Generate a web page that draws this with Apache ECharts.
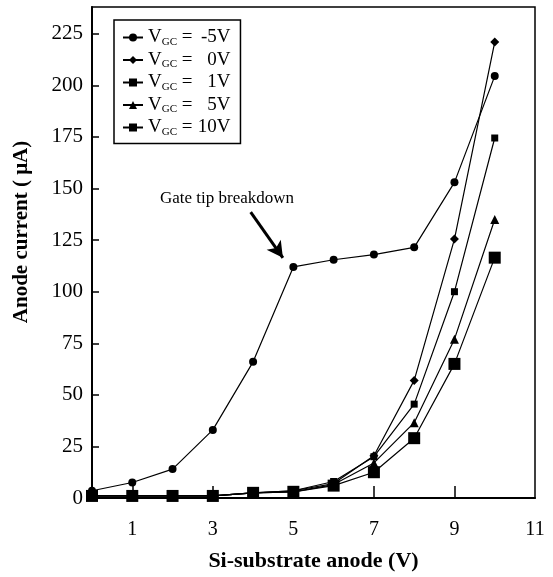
<!DOCTYPE html>
<html>
<head>
<meta charset="utf-8">
<script src="https://cdn.jsdelivr.net/npm/echarts@6/dist/echarts.min.js"></script>
<style>
  html, body { margin: 0; padding: 0; background: #fff; }
  #chart { width: 553px; height: 577px; }
</style>
</head>
<body>
<div id="chart"></div>
<script>
// anode voltage (V)
const anodeV = [0, 1, 2, 3, 4, 5, 6, 7, 8, 9, 10]
// anode current (uA) per gate voltage
const vgcMinus5 = [3.5, 7.5, 14, 33, 66, 112, 115.5, 118, 121.5, 153, 204.5]
const vgc0 = [1, 1, 1, 1, 2.5, 3.5, 7, 20.5, 57, 125.5, 221]
const vgc1 = [1, 1, 1, 1, 2.5, 3.5, 8, 20, 45.5, 100, 174.5]
const vgc5 = [1, 1, 1, 1, 2.5, 3, 6.5, 17, 36.5, 77, 135]
const vgc10 = [1, 1, 1, 1, 2.5, 3, 6, 12.5, 29, 65, 116.5]

const xLabels = [1, 3, 5, 7, 9, 11]
const xTicks = [1, 3, 5, 7, 9]
const seriesNames = ['-5V', '0V', '1V', '5V', '10V']

// arrow of the "Gate tip breakdown" note, in data units
const arrowFrom = [3.94, 138.6]
const arrowTo = [4.74, 116.4]

const serif = "'Liberation Serif', 'Times New Roman', serif"

function pairs (ys) {
  return anodeV.map((x, i) => [x, ys[i]])
}

function lineSeries (name, ys, symbol, size) {
  return {
    type: 'line',
    name: name,
    data: pairs(ys),
    symbol: symbol,
    symbolSize: size,
    showSymbol: true,
    lineStyle: { color: '#000', width: 1.2 },
    itemStyle: { color: '#000' },
    z: 3
  }
}

const chart = echarts.init(document.getElementById('chart'))

const series = [
  lineSeries(seriesNames[0], vgcMinus5, 'circle', 8),
  lineSeries(seriesNames[1], vgc0, 'diamond', 9),
  lineSeries(seriesNames[2], vgc1, 'rect', 7),
  lineSeries(seriesNames[3], vgc5, 'triangle', 9),
  lineSeries(seriesNames[4], vgc10, 'rect', 12)
]

series[0].markLine = {
  silent: true,
  animation: false,
  symbol: ['none', 'arrow'],
  symbolSize: [13, 16],
  label: { show: false },
  lineStyle: { color: '#000', width: 3, type: 'solid' },
  data: [[{ coord: arrowFrom }, { coord: arrowTo }]]
}

chart.setOption({
  animation: false,
  backgroundColor: '#fff',
  grid: {
    left: 92,
    right: 18,
    top: 7,
    bottom: 77,
    show: true,
    borderColor: '#000',
    borderWidth: 1.5
  },
  legend: {
    orient: 'vertical',
    left: 114,
    top: 20,
    padding: [8, 10, 6, 8],
    itemGap: 3,
    itemWidth: 20,
    itemHeight: 10,
    borderColor: '#000',
    borderWidth: 1.5,
    data: seriesNames,
    formatter: function (name) {
      return '{v|V}{s|GC}{e| =}{n|' + name + '}'
    },
    textStyle: {
      color: '#000',
      fontFamily: serif,
      rich: {
        v: { fontSize: 19, fontFamily: serif, lineHeight: 20 },
        s: { fontSize: 11, fontFamily: serif, lineHeight: 20, verticalAlign: 'bottom', padding: [6, 0, 0, 0] },
        e: { fontSize: 19, fontFamily: serif, lineHeight: 20 },
        n: { fontSize: 19, fontFamily: serif, lineHeight: 20, width: 38, align: 'right' }
      }
    }
  },
  xAxis: {
    type: 'value',
    min: 0,
    max: 11,
    name: 'Si-substrate anode (V)',
    nameLocation: 'middle',
    nameGap: 52,
    nameTextStyle: { fontFamily: serif, fontSize: 22, fontWeight: 'bold', color: '#000' },
    axisLine: { show: true, lineStyle: { color: '#000', width: 2 } },
    axisTick: { show: true, inside: true, length: 12, customValues: xTicks, lineStyle: { color: '#000', width: 1.5 } },
    axisLabel: { customValues: xLabels, margin: 22, fontFamily: serif, fontSize: 20, color: '#000' },
    splitLine: { show: false }
  },
  yAxis: {
    type: 'value',
    min: 0,
    max: 238,
    interval: 25,
    axisLine: { show: true, lineStyle: { color: '#000', width: 2 } },
    axisTick: { show: true, inside: true, length: 7, lineStyle: { color: '#000', width: 1.5 } },
    axisLabel: {
      showMaxLabel: false,
      margin: 9,
      fontFamily: serif,
      fontSize: 21,
      color: '#000'
    },
    splitLine: { show: false }
  },
  graphic: [
    {
      type: 'text',
      x: 22,
      y: 232,
      rotation: Math.PI / 2,
      style: {
        text: 'Anode current ( μA)',
        font: 'bold 21px ' + serif,
        fill: '#000',
        align: 'center',
        verticalAlign: 'middle'
      }
    },
    {
      type: 'text',
      x: 227,
      y: 199,
      style: {
        text: 'Gate tip breakdown',
        font: '17px ' + serif,
        fill: '#000',
        align: 'center',
        verticalAlign: 'middle'
      }
    }
  ],
  series: series
})
</script>
</body>
</html>
